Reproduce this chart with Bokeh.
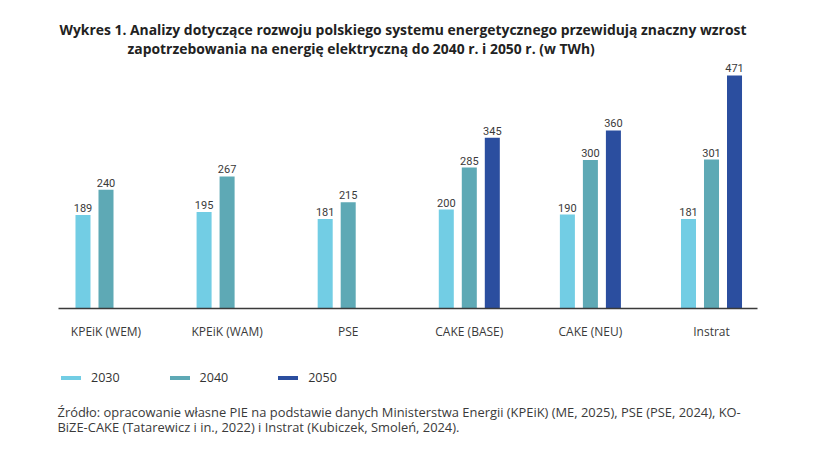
from bokeh.plotting import figure
from bokeh.models import ColumnDataSource, Label, Legend, LegendItem, Range1d, FixedTicker
from bokeh.embed import file_html
from bokeh.resources import INLINE

categories = ["KPEiK (WEM)", "KPEiK (WAM)", "PSE", "CAKE (BASE)", "CAKE (NEU)", "Instrat"]
years = ["2030", "2040", "2050"]
v2030 = [189, 195, 181, 200, 190, 181]
v2040 = [240, 267, 215, 285, 300, 301]
v2050 = [None, None, None, 345, 360, 471]
colors = ["#72CDE4", "#5EA9B5", "#2B4E9F"]

title1 = "Wykres 1. Analizy dotyczące rozwoju polskiego systemu energetycznego przewidują znaczny wzrost"
title2 = "zapotrzebowania na energię elektryczną do 2040 r. i 2050 r. (w TWh)"
source1 = "Źródło: opracowanie własne PIE na podstawie danych Ministerstwa Energii (KPEiK) (ME, 2025), PSE (PSE, 2024), KO-"
source2 = "BiZE-CAKE (Tatarewicz i in., 2022) i Instrat (Kubiczek, Smoleń, 2024)."

W, H = 816, 468
# frame covers the whole canvas; scales: 121.1 px per category, 0.4947 px per TWh
XPX, YPX = 121.1, 0.4947
X0, Y0 = 105.5, 308.0   # canvas position of category 0 / value 0
p = figure(width=W, height=H, output_backend="svg", toolbar_location=None,
           x_range=Range1d(-X0 / XPX, (W - X0) / XPX),
           y_range=Range1d(-(H - Y0) / YPX, Y0 / YPX),
           min_border=0)
p.outline_line_color = None
p.xgrid.visible = False
p.ygrid.visible = False
p.yaxis.visible = False

offsets = [-0.19, 0.0, 0.19]
series = [v2030, v2040, v2050]
renderers = []
for k, (vals, col, off) in enumerate(zip(series, colors, offsets)):
    xs = [i + off for i, v in enumerate(vals) if v is not None]
    ys = [v for v in vals if v is not None]
    src = ColumnDataSource(dict(x=xs, top=ys, lab=[str(v) for v in ys]))
    r = p.vbar(x="x", top="top", bottom=0, width=0.124, source=src,
               fill_color=col, line_color=None)
    renderers.append(r)
    p.text(x="x", y="top", text="lab", source=src, text_align="center",
           text_baseline="bottom", y_offset=-3, text_font_size="11px",
           text_color="#3a3a3a", text_font={"value": "Roboto"})

xa = p.xaxis[0]
xa.fixed_location = 0
xa.bounds = ((58 - X0) / XPX, (757 - X0) / XPX)
xa.ticker = FixedTicker(ticks=list(range(len(categories))))
xa.major_label_overrides = {i: c for i, c in enumerate(categories)}
xa.major_tick_line_color = None
xa.minor_tick_line_color = None
xa.axis_line_color = "#3a3a3a"
xa.axis_line_width = 1.5
xa.major_label_text_font = "Open Sans"
xa.major_label_text_font_size = "12px"
xa.major_label_text_color = "#3a3a3a"
xa.major_label_standoff = 8

def sy(cy):
    return H - cy

for txt, cx, cy in [(title1, 59, 29), (title2, 127, 48)]:
    p.add_layout(Label(x=cx, y=sy(cy), x_units="screen", y_units="screen",
                       text=txt, text_align="left", text_baseline="middle",
                       text_font="Open Sans", text_font_style="bold", text_font_size="13.9px",
                       text_color="#222222"))

for txt, cy in [(source1, 411), (source2, 426)]:
    p.add_layout(Label(x=57, y=sy(cy), x_units="screen", y_units="screen",
                       text=txt, text_align="left", text_baseline="middle",
                       text_font="Open Sans", text_font_size="12.9px",
                       text_color="#3a3a3a"))

legend = Legend(items=[LegendItem(label=y, renderers=[r]) for y, r in zip(years, renderers)],
                orientation="horizontal", location=(58, sy(386)),
                glyph_width=25, glyph_height=5, label_height=14, label_standoff=8,
                spacing=47, padding=0, margin=0, border_line_color=None,
                background_fill_alpha=0, label_text_font="Open Sans",
                label_text_font_size="12.5px", label_text_color="#333333")
p.add_layout(legend, "center")

open("out.html", "w").write(file_html(p, INLINE))
